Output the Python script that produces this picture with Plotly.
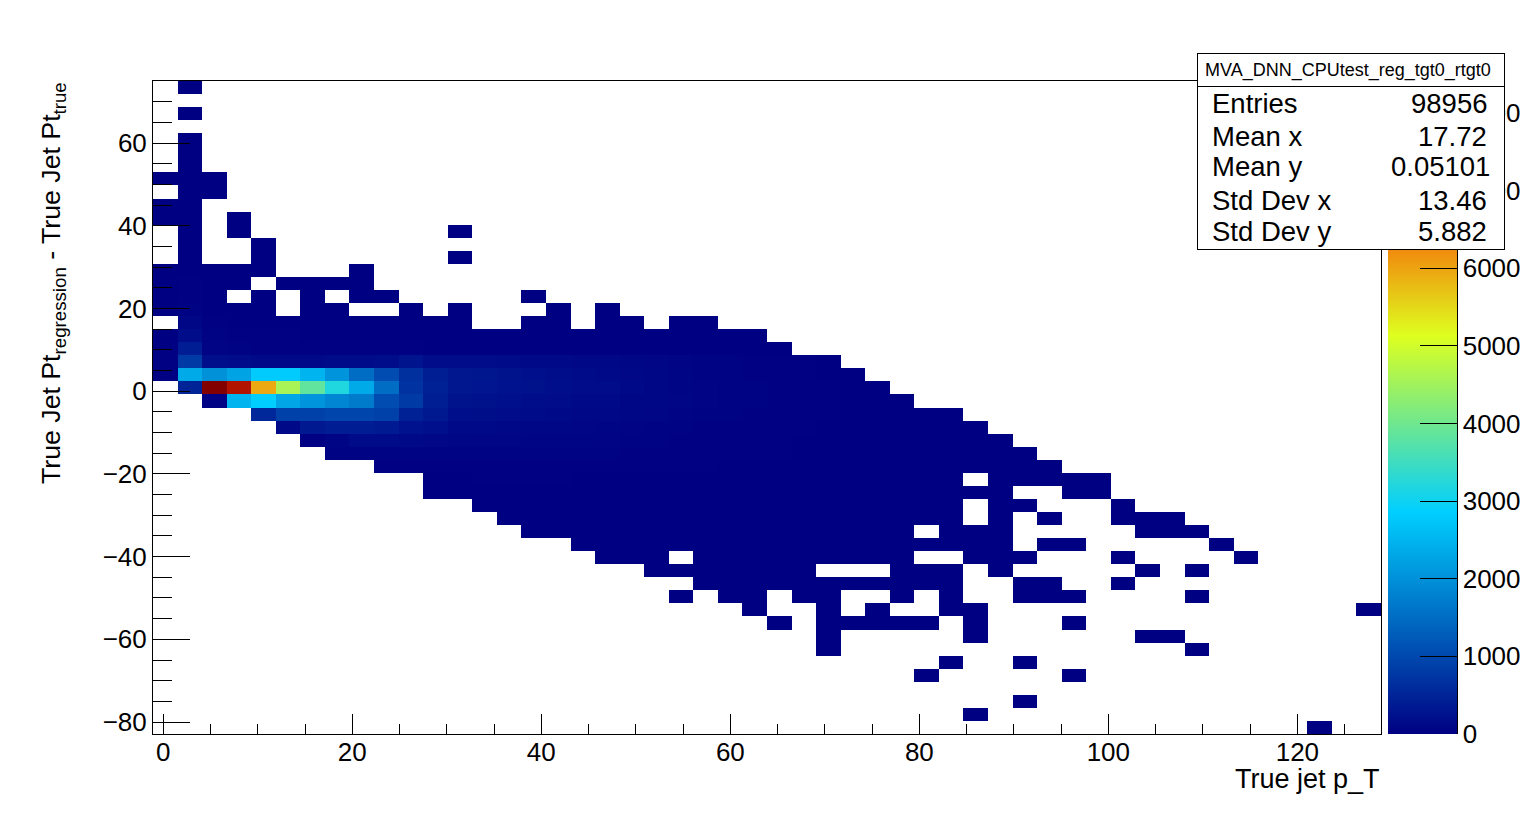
import numpy as np
import plotly.graph_objects as go

# Bin contents, top row of the plot first (column 0 = leftmost bin).
# Rows stop at their last filled bin; the rest of the row is empty.
row_00 = [0, 1]
row_01 = []
row_02 = [0, 1]
row_03 = []
row_04 = [0, 1]
row_05 = [0, 1]
row_06 = [0, 1]
row_07 = [1, 2, 1]
row_08 = [0, 2, 1]
row_09 = [1, 2]
row_10 = [1, 3, 0, 1]
row_11 = [0, 3, 0, 1, 0, 0, 0, 0, 0, 0, 0, 0, 1]
row_12 = [0, 3, 0, 0, 1]
row_13 = [0, 4, 0, 0, 1, 0, 0, 0, 0, 0, 0, 0, 1]
row_14 = [2, 8, 2, 1, 1, 0, 0, 0, 1]
row_15 = [3, 15, 4, 1, 0, 1, 1, 1, 1]
row_16 = [4, 25, 6, 0, 2, 0, 1, 0, 1, 1, 0, 0, 0, 0, 0, 1]
row_17 = [6, 50, 10, 3, 2, 0, 1, 1, 0, 0, 1, 0, 1, 0, 0, 0, 1, 0, 1]
row_18 = [0, 100, 20, 6, 4, 3, 3, 2, 2, 2, 1, 1, 1, 0, 0, 1, 1, 0, 1, 1, 0, 1, 1]
row_19 = [10, 180, 40, 20, 15, 12, 10, 8, 8, 6, 6, 5, 5, 4, 4, 4, 3, 3, 3, 3, 2, 2, 2, 2, 2]
row_20 = [15, 400, 60, 40, 30, 25, 20, 18, 16, 14, 12, 10, 10, 8, 8, 7, 7, 6, 5, 5, 5, 4, 3, 3, 2, 2]
row_21 = [20, 800, 200, 170, 130, 130, 130, 150, 150, 180, 270, 170, 170, 170, 150, 130, 120, 110, 110, 90,
          80, 60, 50, 40, 30, 20, 12, 6]
row_22 = [30, 2350, 2000, 2250, 2800, 2800, 2500, 2050, 1500, 1050, 650, 420, 320, 300, 260, 220, 180, 150, 130, 110,
          90, 70, 50, 40, 30, 20, 12, 6, 2]
row_23 = [0, 500, 8414, 7900, 5950, 4575, 3850, 3190, 2350, 1500, 700, 450, 320, 290, 250, 230, 200, 170, 160, 120,
          100, 70, 60, 50, 40, 30, 20, 12, 6, 2]
row_24 = [0, 0, 40, 2500, 2850, 2300, 2050, 1850, 1700, 1050, 800, 420, 260, 240, 220, 180, 170, 130, 130, 100,
          90, 80, 60, 50, 50, 30, 20, 12, 8, 4, 2]
row_25 = [0, 0, 0, 0, 550, 900, 900, 950, 950, 900, 450, 330, 200, 190, 170, 150, 140, 110, 110, 90,
          80, 60, 50, 40, 30, 25, 18, 12, 8, 6, 4, 2, 1]
row_26 = [0, 0, 0, 0, 0, 120, 340, 400, 400, 360, 250, 210, 130, 120, 110, 100, 90, 80, 70, 60,
          50, 40, 30, 25, 20, 15, 12, 8, 6, 4, 3, 2, 1, 1]
row_27 = [0, 0, 0, 0, 0, 0, 30, 70, 150, 150, 130, 110, 90, 85, 80, 75, 70, 65, 60, 50,
          40, 30, 25, 20, 15, 12, 9, 7, 5, 4, 3, 2, 2, 1, 1]
row_28 = [0, 0, 0, 0, 0, 0, 0, 40, 45, 50, 55, 55, 55, 50, 50, 45, 45, 40, 35, 30,
          30, 25, 20, 18, 15, 12, 10, 8, 6, 5, 4, 3, 2, 2, 1, 1]
row_29 = [0, 0, 0, 0, 0, 0, 0, 0, 0, 15, 18, 20, 22, 22, 22, 22, 22, 20, 20, 18,
          16, 14, 12, 10, 10, 8, 7, 6, 5, 4, 3, 3, 2, 2, 1, 1, 1]
row_30 = [0] * 10 + [0, 10, 11, 12, 12, 12, 12, 11, 11, 10, 9, 8, 7, 6, 6, 5, 4, 4, 3, 3,
                     2, 2, 1, 0, 1, 1, 1, 1, 1]
row_31 = [0] * 10 + [0, 6, 7, 8, 8, 8, 8, 8, 7, 7, 6, 6, 5, 5, 4, 4, 3, 3, 2, 2,
                     2, 1, 1, 1, 1, 0, 0, 1, 1]
row_32 = [0] * 10 + [0, 0, 0, 4, 5, 5, 5, 5, 5, 5, 4, 4, 4, 3, 3, 3, 2, 2, 2, 2,
                     1, 1, 1, 0, 1, 1, 0, 0, 0, 1]
row_33 = [0] * 10 + [0, 0, 0, 0, 3, 3, 3, 3, 3, 3, 3, 3, 3, 2, 2, 2, 2, 1, 1, 1,
                     1, 1, 1, 0, 1, 0, 1, 0, 0, 1, 1, 1]
row_34 = [0] * 10 + [0, 0, 0, 0, 0, 2, 2, 2, 2, 2, 2, 2, 2, 2, 2, 1, 1, 1, 1, 1,
                     1, 0, 1, 1, 1, 0, 0, 0, 0, 0, 1, 1, 1]
row_35 = [0] * 10 + [0, 0, 0, 0, 0, 0, 0, 2, 2, 2, 2, 2, 2, 2, 1, 1, 1, 1, 1, 1,
                     1, 1, 1, 1, 1, 0, 1, 1, 0, 0, 0, 0, 0, 1]
row_36 = [0] * 10 + [0, 0, 0, 0, 0, 0, 0, 0, 1, 1, 1, 0, 1, 1, 1, 1, 1, 1, 1, 1,
                     1, 0, 0, 1, 1, 1, 0, 0, 0, 1, 0, 0, 0, 0, 1]
row_37 = [0] * 20 + [1, 1, 1, 1, 1, 1, 1, 0, 0, 0, 1, 1, 1, 0, 1, 0, 0, 0, 0, 0, 1, 0, 1]
row_38 = [0] * 20 + [0, 0, 1, 1, 1, 1, 1, 1, 1, 1, 1, 1, 1, 0, 0, 1, 1, 0, 0, 1]
row_39 = [0] * 20 + [0, 1, 0, 1, 1, 0, 1, 1, 0, 0, 1, 0, 1, 0, 0, 1, 1, 1, 0, 0, 0, 0, 1]
row_40 = [0] * 20 + [0, 0, 0, 0, 1, 0, 0, 1, 0, 1, 0, 0, 1, 1, 0, 0, 0, 0, 0, 0,
                     0, 0, 0, 0, 0, 0, 0, 0, 0, 1]
row_41 = [0] * 20 + [0, 0, 0, 0, 0, 1, 0, 1, 1, 1, 1, 1, 0, 1, 0, 0, 0, 1]
row_42 = [0] * 20 + [0, 0, 0, 0, 0, 0, 0, 1, 0, 0, 0, 0, 0, 1, 0, 0, 0, 0, 0, 0, 1, 1]
row_43 = [0] * 27 + [1] + [0] * 14 + [1]
row_44 = [0] * 32 + [1, 0, 0, 1]
row_45 = [0] * 31 + [1, 0, 0, 0, 0, 0, 1]
row_46 = []
row_47 = [0] * 35 + [1]
row_48 = [0] * 33 + [1]
row_49 = [0] * 47 + [1]

rows_top_down = [
    row_00, row_01, row_02, row_03, row_04, row_05, row_06, row_07, row_08, row_09,
    row_10, row_11, row_12, row_13, row_14, row_15, row_16, row_17, row_18, row_19,
    row_20, row_21, row_22, row_23, row_24, row_25, row_26, row_27, row_28, row_29,
    row_30, row_31, row_32, row_33, row_34, row_35, row_36, row_37, row_38, row_39,
    row_40, row_41, row_42, row_43, row_44, row_45, row_46, row_47, row_48, row_49,
]

x_tick_values = [0, 20, 40, 60, 80, 100, 120]
y_tick_values = [-80, -60, -40, -20, 0, 20, 40, 60]
z_tick_values = [0, 1000, 2000, 3000, 4000, 5000, 6000, 7000, 8000]
stats_labels = ["Entries", "Mean x", "Mean y", "Std Dev x", "Std Dev y"]
stats_values = ["98956", "17.72", "0.05101", "13.46", "5.882"]
stats_title = "MVA_DNN_CPUtest_reg_tgt0_rtgt0"
x_title = "True jet p_T"
y_title = "True Jet Pt<sub>regression</sub> - True Jet Pt<sub>true</sub>"

N_BINS = 50
X_RANGE = (-1.09, 128.85)
Y_RANGE = (-82.9, 75.06)
Z_MAX = 8414

x_edges = np.linspace(X_RANGE[0], X_RANGE[1], N_BINS + 1)
y_edges = np.linspace(Y_RANGE[0], Y_RANGE[1], N_BINS + 1)
z = [[(v if v > 0 else None) for v in (r + [0] * (N_BINS - len(r)))] for r in reversed(rows_top_down)]

colorscale = [
    [0.00, "rgb(0,0,130)"],
    [0.34, "rgb(0,207,255)"],
    [0.61, "rgb(222,255,31)"],
    [0.84, "rgb(255,51,0)"],
    [1.00, "rgb(130,0,0)"],
]

# plot frame in page pixels
L, R, T, B = 153, 1381, 81, 734
W, H = 1534, 816
FONT = "Liberation Sans"


def px(x):
    return (x - L) / (R - L)


def py(y):
    return (B - y) / (B - T)


fig = go.Figure(
    go.Heatmap(
        x=x_edges,
        y=y_edges,
        z=z,
        zmin=0,
        zmax=Z_MAX,
        colorscale=colorscale,
        hoverongaps=False,
        colorbar=dict(
            x=px(1388),
            xanchor="left",
            xpad=0,
            y=0,
            yanchor="bottom",
            ypad=0,
            len=1,
            lenmode="fraction",
            thickness=69,
            thicknessmode="pixels",
            tickmode="array",
            tickvals=z_tick_values,
            ticktext=[str(v) for v in z_tick_values],
            ticks="inside",
            ticklen=37,
            tickwidth=1,
            tickcolor="black",
            outlinewidth=0,
            tickfont=dict(family=FONT, size=26, color="black"),
        ),
    )
)

axis_common = dict(
    showgrid=False,
    zeroline=False,
    showline=True,
    linecolor="black",
    linewidth=1,
    mirror=True,
    tickcolor="black",
    tickwidth=1,
    ticks="inside",
    tickfont=dict(family=FONT, size=26, color="black"),
)

fig.update_xaxes(
    range=list(X_RANGE),
    tickmode="array",
    tickvals=x_tick_values,
    ticklen=20,
    ticklabelstandoff=-5,
    minor=dict(ticks="inside", ticklen=10, tick0=0, dtick=5, tickcolor="black", tickwidth=1, showgrid=False),
    **axis_common,
)
fig.update_yaxes(
    range=list(Y_RANGE),
    tickmode="array",
    tickvals=y_tick_values,
    ticklen=37,
    minor=dict(ticks="inside", ticklen=18.6, tick0=0, dtick=5, tickcolor="black", tickwidth=1, showgrid=False),
    **axis_common,
)

ann = []
# axis titles
ann.append(dict(text=x_title, xref="paper", yref="paper", x=px(1382), y=py(779), xanchor="right", yanchor="middle",
                showarrow=False, font=dict(family=FONT, size=27, color="black")))
ann.append(dict(text=y_title, xref="paper", yref="paper", x=px(53), y=py(80), xanchor="center", yanchor="top",
                textangle=-90, showarrow=False, font=dict(family=FONT, size=26.7, color="black")))
# stats box: body, header, then the texts on top
ann.append(dict(text=" ", xref="paper", yref="paper", x=px(1196.5), y=py(85), xanchor="left", yanchor="top",
                width=306, height=163, bgcolor="white", bordercolor="black", borderwidth=1, borderpad=0,
                showarrow=False, font=dict(family=FONT, size=10)))
ann.append(dict(text=" ", xref="paper", yref="paper", x=px(1196.5), y=py(53.5), xanchor="left", yanchor="top",
                width=306, height=31.5, bgcolor="white", bordercolor="black", borderwidth=1, borderpad=0,
                showarrow=False, font=dict(family=FONT, size=10)))
ann.append(dict(text=stats_title, xref="paper", yref="paper", x=px(1348), y=py(70), xanchor="center", yanchor="middle",
                showarrow=False, font=dict(family=FONT, size=18, color="black")))
row_centers = [104, 136, 166, 200, 231]
value_right_edges = [1489, 1489, 1492, 1489, 1489]
for lab, val, yc, xr in zip(stats_labels, stats_values, row_centers, value_right_edges):
    ann.append(dict(text=lab, xref="paper", yref="paper", x=px(1210), y=py(yc), xanchor="left", yanchor="middle",
                    showarrow=False, font=dict(family=FONT, size=27.5, color="black")))
    ann.append(dict(text=val, xref="paper", yref="paper", x=px(xr), y=py(yc), xanchor="right", yanchor="middle",
                    showarrow=False, font=dict(family=FONT, size=27.5, color="black")))

fig.update_layout(
    width=W,
    height=H,
    autosize=False,
    margin=dict(l=L, r=W - R, t=T, b=H - B, pad=0, autoexpand=False),
    paper_bgcolor="white",
    plot_bgcolor="white",
    font=dict(family=FONT, color="black"),
    annotations=ann,
    showlegend=False,
    shapes=[dict(type="line", xref="paper", yref="paper", x0=px(1457.5), x1=px(1457.5), y0=0, y1=1,
                 line=dict(color="black", width=1))],
)

fig.write_html(
    "out.html",
    config={"displayModeBar": False},
    post_script="document.body.style.margin='0';document.body.style.overflow='hidden';",
)
